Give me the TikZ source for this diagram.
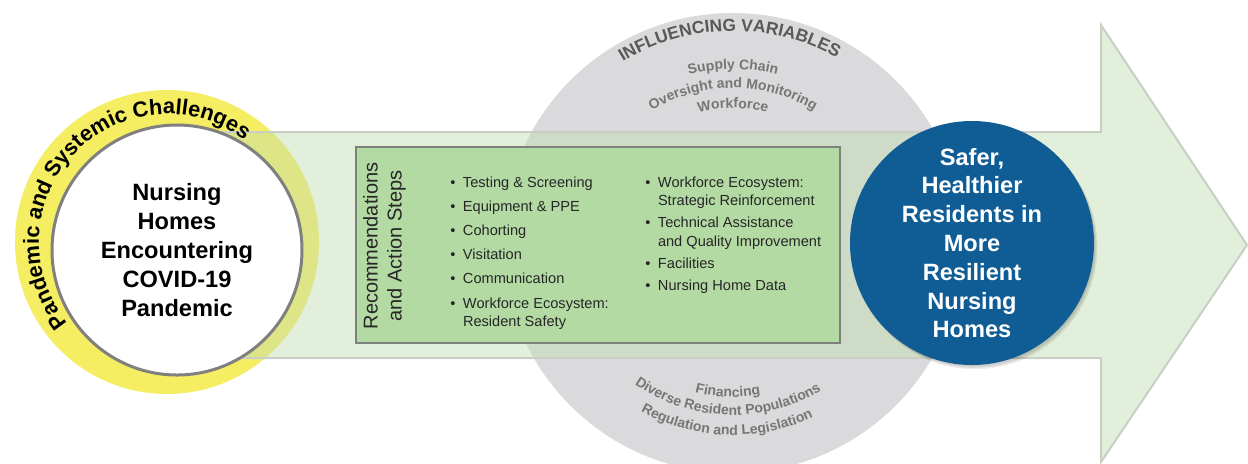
\documentclass[tikz,border=0pt]{standalone}
\usepackage{fontspec}
\setmainfont{Liberation Sans}
\usetikzlibrary{positioning,decorations.text}

\definecolor{ringyellow}{RGB}{245,237,98}
\definecolor{bandgreen}{RGB}{194,221,177}
\definecolor{bandline}{RGB}{200,207,196}
\definecolor{varsgray}{RGB}{218,218,220}
\definecolor{boxgreen}{RGB}{180,218,164}
\definecolor{boxline}{RGB}{125,128,125}
\definecolor{goalblue}{RGB}{16,93,150}
\definecolor{titlegray}{RGB}{89,89,89}
\definecolor{factorgray}{RGB}{118,118,118}
\definecolor{listtext}{RGB}{38,38,38}

\newcommand{\bigbold}{\fontsize{11.8}{14.4}\selectfont\bfseries}
\newcommand{\ringfont}{\fontsize{10.9}{12}\selectfont\bfseries}
\newcommand{\varsfont}{\fontsize{8.7}{10}\selectfont\bfseries\color{titlegray}}
\newcommand{\factorfont}{\fontsize{7}{8}\selectfont\bfseries\color{factorgray}}
\newcommand{\itm}{\makebox[6.3pt][l]{\textbullet}}
\newcommand{\ind}{\hspace*{6.3pt}}

\begin{document}
\begin{tikzpicture}[x=0.5pt,y=0.5pt,
	curved/.style={decorate,decoration={text along path,text align=center,text={#1}}},
	listcol/.style={inner sep=0,anchor=base west,text=listtext,font=\fontsize{7.3}{9.3}\selectfont}]
	\useasboundingbox (0,0) rectangle (1248,-463);

	% influencing variables circle and challenges ring
	\coordinate (vars) at (733,-243);
	\coordinate (ring) at (167,-242);
	\fill [varsgray] (vars) circle (230);
	\fill [ringyellow] (ring) circle (152);

	% the big arrow
	\draw [bandline, line width=1pt, fill=bandgreen, fill opacity=.47]
		(180,-132) -- (1101,-132) -- (1101,-25) -- (1247,-245) -- (1101,-462)
		-- (1101,-358) -- (180,-358) -- cycle;

	\node [circle, draw=gray, line width=1.5pt, fill=white, minimum size=125pt, inner sep=0,
		align=center, font=\bigbold] (homes) at (177,-250)
		{Nursing\\Homes\\Encountering\\COVID-19\\Pandemic};

	\node [draw=boxline, line width=0.6pt, fill=boxgreen, minimum width=242pt, minimum height=98pt]
		(steps) at (598,-245) {};
	\node [rotate=90, align=center, text=listtext, font=\fontsize{10}{12}\selectfont]
		(recs) at ([xshift=14.5pt,yshift=-0.5pt]steps.west) {Recommendations\\and Action Steps};

	\node [listcol] (leftlist) at (450,-187) {\begin{tabular}[t]{@{}l@{}}
		\itm Testing \& Screening\\[2.8pt]
		\itm Equipment \& PPE\\[2.8pt]
		\itm Cohorting\\[2.8pt]
		\itm Visitation\\[2.8pt]
		\itm Communication\\[2.8pt]
		\itm Workforce Ecosystem:\\
		\ind Resident Safety
	\end{tabular}};
	\node [listcol] (rightlist) at (645,-187) {\begin{tabular}[t]{@{}l@{}}
		\itm Workforce Ecosystem:\\
		\ind Strategic Reinforcement\\[1.8pt]
		\itm Technical Assistance\\
		\ind and Quality Improvement\\[1.8pt]
		\itm Facilities\\[1.8pt]
		\itm Nursing Home Data
	\end{tabular}};

	% outcome, with a soft shadow
	\foreach \s in {4,3,2}
		\fill [black, opacity=.07] (972+\s*0.8,-243-\s) circle (121+\s*0.3);
	\node [circle, fill=goalblue, minimum size=122pt, inner sep=0, align=center, text=white,
		font=\bigbold] (goal) at (972,-243)
		{Safer,\\Healthier\\Residents in\\More\\Resilient\\Nursing\\Homes};

	% curved labels
	\path [curved={|\ringfont|Pandemic and Systemic Challenges}]
		(ring) ++(228:128) arc [start angle=228, end angle=44, radius=128];
	\path [curved={|\varsfont|INFLUENCING VARIABLES}]
		(vars) ++(151:212) arc [start angle=151, end angle=31, radius=212];
	\path [curved={|\factorfont|Supply Chain}]
		(vars) ++(150:174) arc [start angle=150, end angle=30, radius=174];
	\path [curved={|\factorfont|Oversight and Monitoring}]
		(vars) ++(150:155) arc [start angle=150, end angle=30, radius=155];
	\path [curved={|\factorfont|Workforce}]
		(vars) ++(150:135) arc [start angle=150, end angle=30, radius=135];
	\path [curved={|\factorfont|Financing}]
		(vars) ++(208:154) arc [start angle=208, end angle=328, radius=154];
	\path [curved={|\factorfont|Diverse Resident Populations}]
		(vars) ++(208:172) arc [start angle=208, end angle=328, radius=172];
	\path [curved={|\factorfont|Regulation and Legislation}]
		(vars) ++(208:192) arc [start angle=208, end angle=328, radius=192];
\end{tikzpicture}
\end{document}
